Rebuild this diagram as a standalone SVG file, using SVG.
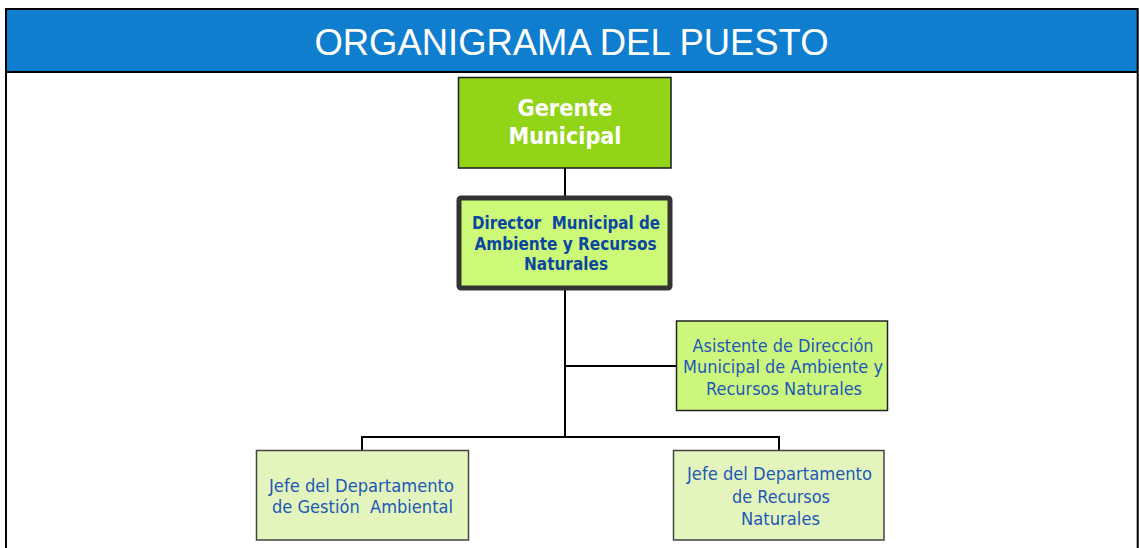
<svg xmlns="http://www.w3.org/2000/svg" width="1139" height="548" viewBox="0 0 1139 548">
<style>
.frame{fill:none;stroke:#000;stroke-width:2}
.conn{fill:none;stroke:#000;stroke-width:2}
.box-g{fill:#92D418;stroke:#1a1a1a;stroke-width:1.5}
.box-d{fill:#CCFA78;stroke:#333;stroke-width:5}
.box-a{fill:#CDF77C;stroke:#222;stroke-width:1.5}
.box-j{fill:#E3F5BC;stroke:#444;stroke-width:1.5}
.t-g{font-family:"DejaVu Sans",sans-serif;font-weight:bold;font-size:23.5px;fill:#fff;text-anchor:middle}
.t-d{font-family:"DejaVu Sans",sans-serif;font-weight:bold;font-size:18.5px;fill:#0B46A0;text-anchor:middle;white-space:pre}
.t-r{font-family:"DejaVu Sans",sans-serif;font-size:18px;fill:#2158B8;text-anchor:middle;white-space:pre}
.title{font-family:"Liberation Sans",Arial,sans-serif;font-size:37px;fill:#fff;text-anchor:middle}
</style>
<rect x="0" y="0" width="1139" height="548" fill="#fff"/>
<g id="header">
<rect x="6" y="9" width="1131.7" height="63" fill="#0F7ECF"/>
<path class="frame" d="M6 548 V9 H1137.7 V548 M6 72 H1137.7"/>
<text class="title" x="571.5" y="55" textLength="514" lengthAdjust="spacingAndGlyphs">ORGANIGRAMA DEL PUESTO</text>
</g>
<g id="connectors">
<path class="conn" d="M565 168 V196"/>
<path class="conn" d="M565 290 V437"/>
<path class="conn" d="M565 366 H676"/>
<path class="conn" d="M362 450 V437 H779 V450"/>
</g>
<g id="gerente">
<rect class="box-g" x="458.5" y="77.5" width="212.5" height="90.5"/>
<text class="t-g" x="565" y="116" textLength="95" lengthAdjust="spacingAndGlyphs">Gerente</text>
<text class="t-g" x="565" y="144" textLength="113" lengthAdjust="spacingAndGlyphs">Municipal</text>
</g>
<g id="director">
<rect class="box-d" x="459" y="198" width="211" height="90" rx="2"/>
<text class="t-d" x="566" y="229" textLength="188" lengthAdjust="spacingAndGlyphs" xml:space="preserve">Director  Municipal de</text>
<text class="t-d" x="565.5" y="249.5" textLength="182" lengthAdjust="spacingAndGlyphs">Ambiente y Recursos</text>
<text class="t-d" x="566" y="270" textLength="84" lengthAdjust="spacingAndGlyphs">Naturales</text>
</g>
<g id="asistente">
<rect class="box-a" x="676.5" y="321" width="211" height="89.5"/>
<text class="t-r" x="783" y="351.5" textLength="181" lengthAdjust="spacingAndGlyphs">Asistente de Dirección</text>
<text class="t-r" x="783" y="373" textLength="200" lengthAdjust="spacingAndGlyphs">Municipal de Ambiente y</text>
<text class="t-r" x="784" y="394.5" textLength="156" lengthAdjust="spacingAndGlyphs">Recursos Naturales</text>
</g>
<g id="jefe-gestion">
<rect class="box-j" x="256.5" y="450.5" width="212" height="89.5"/>
<text class="t-r" x="361.5" y="492" textLength="185" lengthAdjust="spacingAndGlyphs">Jefe del Departamento</text>
<text class="t-r" x="362.5" y="513" textLength="181" lengthAdjust="spacingAndGlyphs" xml:space="preserve">de Gestión  Ambiental</text>
</g>
<g id="jefe-recursos">
<rect class="box-j" x="673.5" y="450.5" width="210.5" height="89.5"/>
<text class="t-r" x="779.5" y="480" textLength="185" lengthAdjust="spacingAndGlyphs">Jefe del Departamento</text>
<text class="t-r" x="781" y="502.5" textLength="98" lengthAdjust="spacingAndGlyphs">de Recursos</text>
<text class="t-r" x="780.5" y="524.5" textLength="79" lengthAdjust="spacingAndGlyphs">Naturales</text>
</g>
</svg>
